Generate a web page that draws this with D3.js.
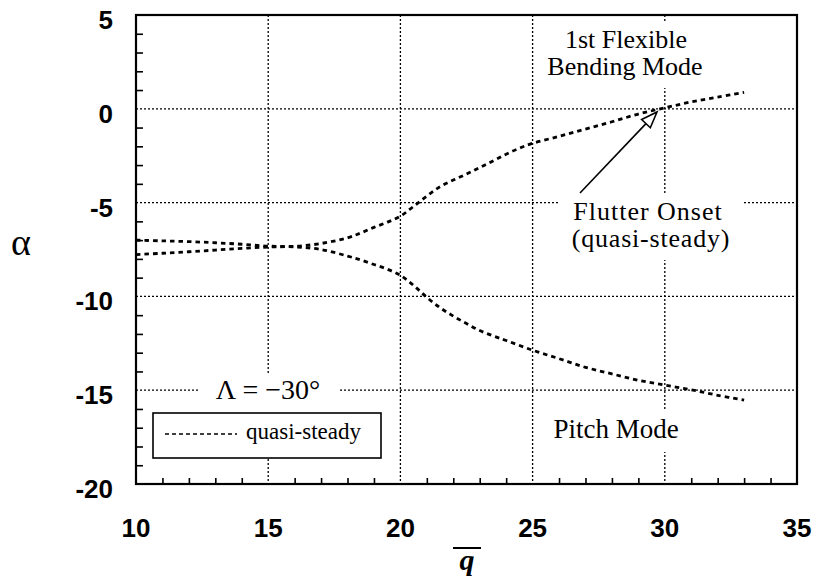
<!DOCTYPE html>
<html>
<head>
<meta charset="utf-8">
<script src="https://cdn.jsdelivr.net/npm/d3@7"></script>
<style>
  body { margin: 0; background: #fff; }
  .tick-lbl { font-family: "Liberation Sans", Arial, sans-serif; font-weight: bold; font-size: 26px; }
  .note { font-family: "Liberation Serif", "Times New Roman", serif; }
</style>
</head>
<body>
<div id="chart"></div>
<script>
// dynamic pressure q-bar
const qBend = [10, 11, 12, 13, 14, 15, 16, 17, 18, 18.5, 19, 19.5, 20, 20.5, 21, 21.5, 22, 22.5, 23, 23.5, 24, 24.5, 25, 26, 27, 28, 29, 30, 31, 32, 33];
const alphaBend = [-7.00, -7.04, -7.08, -7.14, -7.22, -7.32, -7.33, -7.18, -6.88, -6.62, -6.32, -6.05, -5.72, -5.20, -4.65, -4.15, -3.80, -3.48, -3.13, -2.78, -2.42, -2.10, -1.84, -1.47, -1.08, -0.69, -0.28, 0.05, 0.37, 0.62, 0.88];

const qPitch = [10, 11, 12, 13, 14, 15, 16, 17, 18, 18.5, 19, 19.5, 20, 20.5, 21, 21.5, 22, 22.5, 23, 23.5, 24, 25, 26, 27, 28, 29, 30, 31, 32, 33];
const alphaPitch = [-7.77, -7.70, -7.62, -7.53, -7.44, -7.37, -7.36, -7.50, -7.85, -8.06, -8.30, -8.55, -8.88, -9.42, -10.05, -10.60, -11.05, -11.45, -11.82, -12.10, -12.35, -12.87, -13.32, -13.78, -14.13, -14.47, -14.73, -14.98, -15.27, -15.53];

const xTicks = [10, 15, 20, 25, 30, 35];
const yTicks = [5, 0, -5, -10, -15, -20];

const W = 814, H = 579;
const pLeft = 136, pRight = 797, pTop = 15, pBottom = 484;

const svg = d3.select("#chart").append("svg").attr("width", W).attr("height", H);

const x = d3.scaleLinear().domain([10, 35]).range([pLeft, pRight]);
const y = d3.scaleLinear().domain([-20, 5]).range([pBottom, pTop]);

// grid (dotted)
const grid = svg.append("g").attr("stroke", "#000").attr("stroke-width", 1.3).attr("stroke-dasharray", "2,2");
xTicks.slice(1, -1).forEach(v => {
    grid.append("line").attr("x1", x(v)).attr("x2", x(v)).attr("y1", pTop).attr("y2", pBottom);
});
yTicks.slice(1, -1).forEach(v => {
    grid.append("line").attr("x1", pLeft).attr("x2", pRight).attr("y1", y(v)).attr("y2", y(v));
});

// white patches behind labels, they cut the grid
const patches = [
    [540, 22, 172, 66],   // 1st flexible bending mode
    [560, 193, 183, 67],  // flutter onset
    [545, 410, 141, 42],  // pitch mode
    [200, 373, 140, 40]   // sweep angle
];
svg.append("g").selectAll("rect").data(patches).enter().append("rect")
    .attr("x", d => d[0]).attr("y", d => d[1]).attr("width", d => d[2]).attr("height", d => d[3])
    .attr("fill", "#fff");

// minor ticks, inward
const minorX = d3.range(11, 35).filter(v => v % 5 !== 0);
const minorY = d3.range(-19, 5).filter(v => v % 5 !== 0);

svg.append("g")
    .attr("transform", `translate(0,${pBottom})`)
    .call(d3.axisBottom(x).tickValues(minorX).tickSize(-6).tickFormat(""))
    .call(g => g.select(".domain").remove())
    .selectAll("line").attr("stroke-width", 1.6);

svg.append("g")
    .attr("transform", `translate(${pLeft},0)`)
    .call(d3.axisLeft(y).tickValues(minorY).tickSize(-7).tickFormat(""))
    .call(g => g.select(".domain").remove())
    .selectAll("line").attr("stroke-width", 1.6);

// tick labels
svg.append("g").selectAll("text").data(xTicks).enter().append("text")
    .attr("class", "tick-lbl")
    .attr("x", d => x(d)).attr("y", 537)
    .attr("text-anchor", "middle")
    .text(d => d);

svg.append("g").selectAll("text").data(yTicks).enter().append("text")
    .attr("class", "tick-lbl")
    .attr("x", 113).attr("y", d => y(d) + 14)
    .attr("text-anchor", "end")
    .text(d => d);

// curves
const line = d3.line().x(d => x(d[0])).y(d => y(d[1])).curve(d3.curveCatmullRom);
const bend = qBend.map((q, i) => [q, alphaBend[i]]);
const pitch = qPitch.map((q, i) => [q, alphaPitch[i]]);

[bend, pitch].forEach(s => {
    svg.append("path").datum(s)
        .attr("d", line)
        .attr("fill", "none")
        .attr("stroke", "#000")
        .attr("stroke-width", 2.8)
        .attr("stroke-dasharray", "4.5,4");
});

// frame
svg.append("rect")
    .attr("x", pLeft).attr("y", pTop)
    .attr("width", pRight - pLeft).attr("height", pBottom - pTop)
    .attr("fill", "none").attr("stroke", "#000").attr("stroke-width", 2.2);

// legend
const leg = svg.append("g");
leg.append("rect").attr("x", 153).attr("y", 413).attr("width", 228).attr("height", 45)
    .attr("fill", "#fff").attr("stroke", "#000").attr("stroke-width", 1.6);
leg.append("line").attr("x1", 165).attr("x2", 237).attr("y1", 434).attr("y2", 434)
    .attr("stroke", "#000").attr("stroke-width", 1.6).attr("stroke-dasharray", "4,3");
leg.append("text").attr("class", "note").attr("x", 246).attr("y", 439)
    .attr("font-size", 23).text("quasi-steady");

// annotations
const note = (tx, ty, size, str) => svg.append("text").attr("class", "note")
    .attr("x", tx).attr("y", ty).attr("font-size", size).attr("text-anchor", "middle").text(str);

note(626, 48, 26, "1st Flexible");
note(625, 75, 26, "Bending Mode");
note(648, 220, 26, "Flutter Onset").attr("letter-spacing", 1);
note(651, 247, 26, "(quasi-steady)").attr("letter-spacing", 0.8);
note(616, 438, 27, "Pitch Mode");
note(268, 399, 28, "Λ = −30°");

// arrow to flutter onset
const tip = [657, 112], tail = [580, 193];
const ang = Math.atan2(tip[1] - tail[1], tip[0] - tail[0]);
const hl = 16, hw = 6;
const bx = tip[0] - hl * Math.cos(ang), by = tip[1] - hl * Math.sin(ang);
svg.append("line").attr("x1", tail[0]).attr("y1", tail[1]).attr("x2", bx).attr("y2", by)
    .attr("stroke", "#000").attr("stroke-width", 1.6);
svg.append("path")
    .attr("d", `M${tip[0]},${tip[1]}L${bx - hw * Math.sin(ang)},${by + hw * Math.cos(ang)}L${bx + hw * Math.sin(ang)},${by - hw * Math.cos(ang)}Z`)
    .attr("fill", "#fff").attr("stroke", "#000").attr("stroke-width", 1.6);

// axis titles
svg.append("text").attr("class", "note").attr("x", 21).attr("y", 255)
    .attr("font-size", 38).attr("text-anchor", "middle").text("α");

svg.append("text").attr("class", "note").attr("x", 467).attr("y", 570)
    .attr("font-size", 30).attr("font-style", "italic").attr("font-weight", "bold")
    .attr("text-anchor", "middle").text("q");
svg.append("line").attr("x1", 453).attr("x2", 481).attr("y1", 548).attr("y2", 548)
    .attr("stroke", "#000").attr("stroke-width", 2);
</script>
</body>
</html>
